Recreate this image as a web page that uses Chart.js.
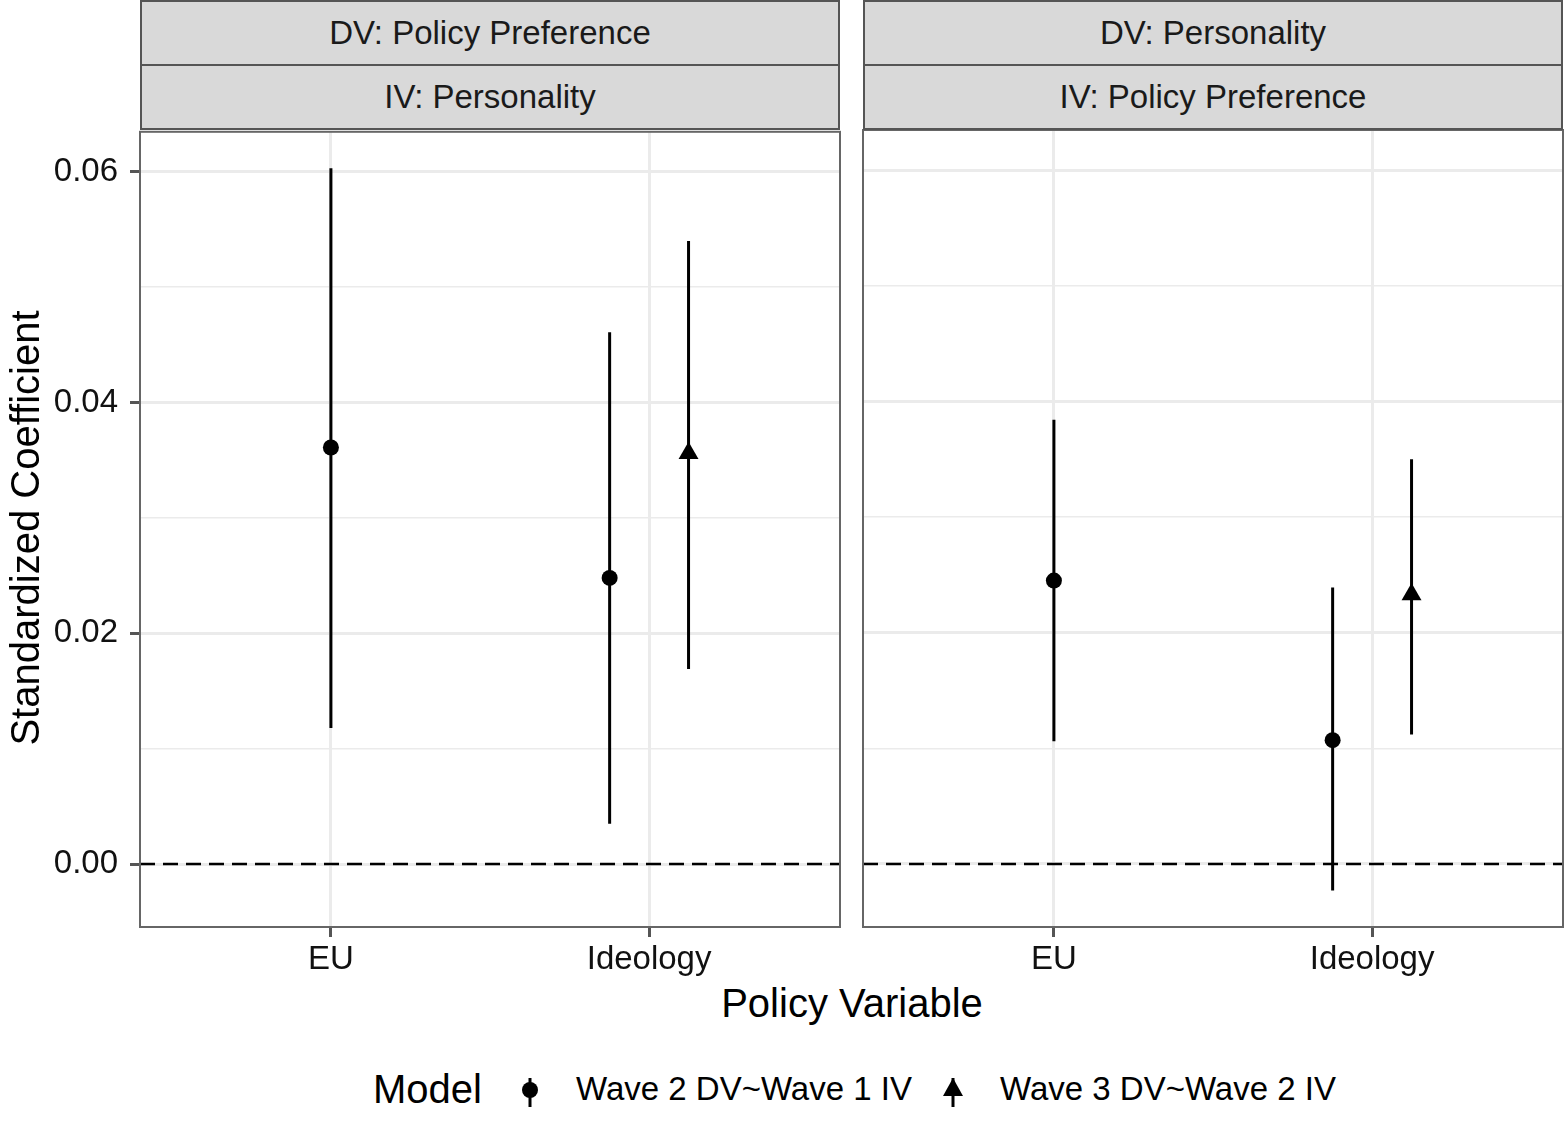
<!DOCTYPE html>
<html>
<head>
<meta charset="utf-8">
<script src="https://cdn.jsdelivr.net/npm/chart.js@4.4.0/dist/chart.umd.min.js"></script>
<style>
  body { margin: 0; background: #fff; font-family: "Liberation Sans", Arial, sans-serif; }
  #page { position: relative; width: 1565px; height: 1123px; overflow: hidden; }
  .holder { position: absolute; top: 100px; height: 880px; }
  .strip { position: absolute; box-sizing: border-box; width: 700px; height: 66px; background: #d9d9d9;
           border: 2px solid #555; font-size: 33px; line-height: 62px; text-align: center; color: #1a1a1a; }
  .txt { position: absolute; white-space: nowrap; color: #000; }
</style>
</head>
<body>
<div id="page">
  <div class="holder" style="left:0;width:842px"><canvas id="panel1"></canvas></div>
  <div class="holder" style="left:861px;width:704px"><canvas id="panel2"></canvas></div>

  <div class="strip" id="dv1" style="left:140px;top:0"></div>
  <div class="strip" id="iv1" style="left:140px;top:64px"></div>
  <div class="strip" id="dv2" style="left:863px;top:0"></div>
  <div class="strip" id="iv2" style="left:863px;top:64px"></div>

  <div class="txt" id="yTitle" style="left:-375px;top:508px;width:800px;height:40px;line-height:40px;font-size:40px;text-align:center;transform:rotate(-90deg)"></div>
  <div class="txt" id="xTitle" style="left:452px;top:983px;width:800px;line-height:40px;font-size:40px;text-align:center"></div>

  <div class="txt" id="legTitle" style="left:373px;top:1069px;font-size:40px;line-height:40px"></div>
  <svg style="position:absolute;left:510px;top:1070px" width="40" height="42">
    <line x1="20" y1="8" x2="20" y2="37" stroke="#000" stroke-width="3"/>
    <circle cx="20" cy="20" r="8" fill="#000"/>
  </svg>
  <div class="txt" id="leg1" style="left:576px;top:1072px;font-size:33px;line-height:33px"></div>
  <svg style="position:absolute;left:933px;top:1070px" width="40" height="42">
    <line x1="20" y1="8" x2="20" y2="37" stroke="#000" stroke-width="3"/>
    <polygon points="20,8 30,26 10,26" fill="#000"/>
  </svg>
  <div class="txt" id="leg2" style="left:1000px;top:1072px;font-size:33px;line-height:33px"></div>
</div>

<script>
// ----------- Data -----------
const categories = ["EU", "Ideology"];
const seriesNames = ["Wave 2 DV~Wave 1 IV", "Wave 3 DV~Wave 2 IV"];
const panelDV = ["DV: Policy Preference", "DV: Personality"];
const panelIV = ["IV: Personality", "IV: Policy Preference"];

// panel 1: DV policy preference, IV personality
const p1Wave2Est  = [0.0361, 0.0248];
const p1Wave2Low  = [0.0118, 0.0035];
const p1Wave2High = [0.0603, 0.0461];
const p1Wave3Est  = [null, 0.0356];
const p1Wave3Low  = [null, 0.0169];
const p1Wave3High = [null, 0.0540];

// panel 2: DV personality, IV policy preference
const p2Wave2Est  = [0.0245, 0.0107];
const p2Wave2Low  = [0.0106, -0.0023];
const p2Wave2High = [0.0384, 0.0239];
const p2Wave3Est  = [null, 0.0233];
const p2Wave3Low  = [null, 0.0112];
const p2Wave3High = [null, 0.0350];

// ----------- Text -----------
document.getElementById("dv1").textContent = panelDV[0];
document.getElementById("iv1").textContent = panelIV[0];
document.getElementById("dv2").textContent = panelDV[1];
document.getElementById("iv2").textContent = panelIV[1];
document.getElementById("yTitle").textContent = "Standardized Coefficient";
document.getElementById("xTitle").textContent = "Policy Variable";
document.getElementById("legTitle").textContent = "Model";
document.getElementById("leg1").textContent = seriesNames[0];
document.getElementById("leg2").textContent = seriesNames[1];

Chart.defaults.font.family = '"Liberation Sans", Arial, sans-serif';

const DODGE = 0.124;
const isMajor = v => Math.round(v * 100) % 2 === 0;

// dodge points when both models exist for a category
function buildPoints(est, low, high, other, side) {
  const pts = [];
  est.forEach((v, i) => {
    if (v === null) return;
    const x = other[i] === null ? i + 1 : i + 1 + side * DODGE;
    pts.push({ x: x, y: v, lo: low[i], hi: high[i] });
  });
  return pts;
}

// ----------- Zero line, error bars, panel border -----------
const panelDeco = {
  id: "panelDeco",
  beforeDatasetsDraw(chart) {
    const { ctx, chartArea: a, scales: { x, y } } = chart;
    ctx.save();
    ctx.beginPath();
    ctx.rect(a.left, a.top, a.width, a.height);
    ctx.clip();
    const y0 = y.getPixelForValue(0);
    ctx.strokeStyle = "#000";
    ctx.lineWidth = 2.5;
    ctx.setLineDash([15, 8]);
    ctx.beginPath();
    ctx.moveTo(a.left, y0);
    ctx.lineTo(a.right, y0);
    ctx.stroke();
    ctx.setLineDash([]);
    ctx.lineWidth = 3;
    chart.data.datasets.forEach(ds => {
      ds.data.forEach(p => {
        const px = x.getPixelForValue(p.x);
        ctx.beginPath();
        ctx.moveTo(px, y.getPixelForValue(p.lo));
        ctx.lineTo(px, y.getPixelForValue(p.hi));
        ctx.stroke();
      });
    });
    ctx.restore();
  },
  afterDraw(chart) {
    const { ctx, chartArea: a } = chart;
    ctx.save();
    ctx.strokeStyle = "#666";
    ctx.lineWidth = 2;
    ctx.strokeRect(a.left, a.top, a.width, a.height);
    ctx.restore();
  }
};

function makePanel(id, w2Est, w2Low, w2High, w3Est, w3Low, w3High, showY) {
  return new Chart(document.getElementById(id), {
    type: "scatter",
    data: {
      datasets: [
        { label: seriesNames[0], data: buildPoints(w2Est, w2Low, w2High, w3Est, -1),
          pointStyle: "circle", pointRadius: 8, backgroundColor: "#000", borderWidth: 0 },
        { label: seriesNames[1], data: buildPoints(w3Est, w3Low, w3High, w2Est, 1),
          pointStyle: "triangle", pointRadius: 11.5, backgroundColor: "#000", borderWidth: 0 }
      ]
    },
    options: {
      responsive: true,
      maintainAspectRatio: false,
      animation: false,
      events: [],
      layout: { autoPadding: false, padding: { top: 30, bottom: 0, left: showY ? 0 : 2, right: 2 } },
      plugins: { legend: { display: false }, tooltip: { enabled: false } },
      scales: {
        x: {
          type: "linear", min: 0.4, max: 2.6,
          afterBuildTicks: s => { s.ticks = categories.map((c, i) => ({ value: i + 1 })); },
          ticks: { callback: v => categories[v - 1], font: { size: 33 }, color: "#111", padding: 3,
                   maxRotation: 0, autoSkip: false },
          grid: { color: "#ebebeb", lineWidth: 3, tickLength: 10, tickColor: "#555", tickWidth: 3 },
          border: { display: false },
          afterFit: s => { s.height = 53; }
        },
        y: {
          min: -0.00545, max: 0.06346,
          ticks: { display: showY, stepSize: 0.01, includeBounds: false, autoSkip: false,
                   callback: v => isMajor(v) ? v.toFixed(2) : "", font: { size: 33 }, color: "#111", padding: 12 },
          grid: {
            color: "#ebebeb",
            lineWidth: c => isMajor(c.tick.value) ? 3 : 1.5,
            drawTicks: showY, tickLength: 10, tickWidth: 3,
            tickColor: c => isMajor(c.tick.value) ? "#555" : "rgba(0,0,0,0)"
          },
          border: { display: false },
          afterFit: s => { s.width = showY ? 140 : 0; }
        }
      }
    },
    plugins: [panelDeco]
  });
}

makePanel("panel1", p1Wave2Est, p1Wave2Low, p1Wave2High, p1Wave3Est, p1Wave3Low, p1Wave3High, true);
makePanel("panel2", p2Wave2Est, p2Wave2Low, p2Wave2High, p2Wave3Est, p2Wave3Low, p2Wave3High, false);
</script>
</body>
</html>
